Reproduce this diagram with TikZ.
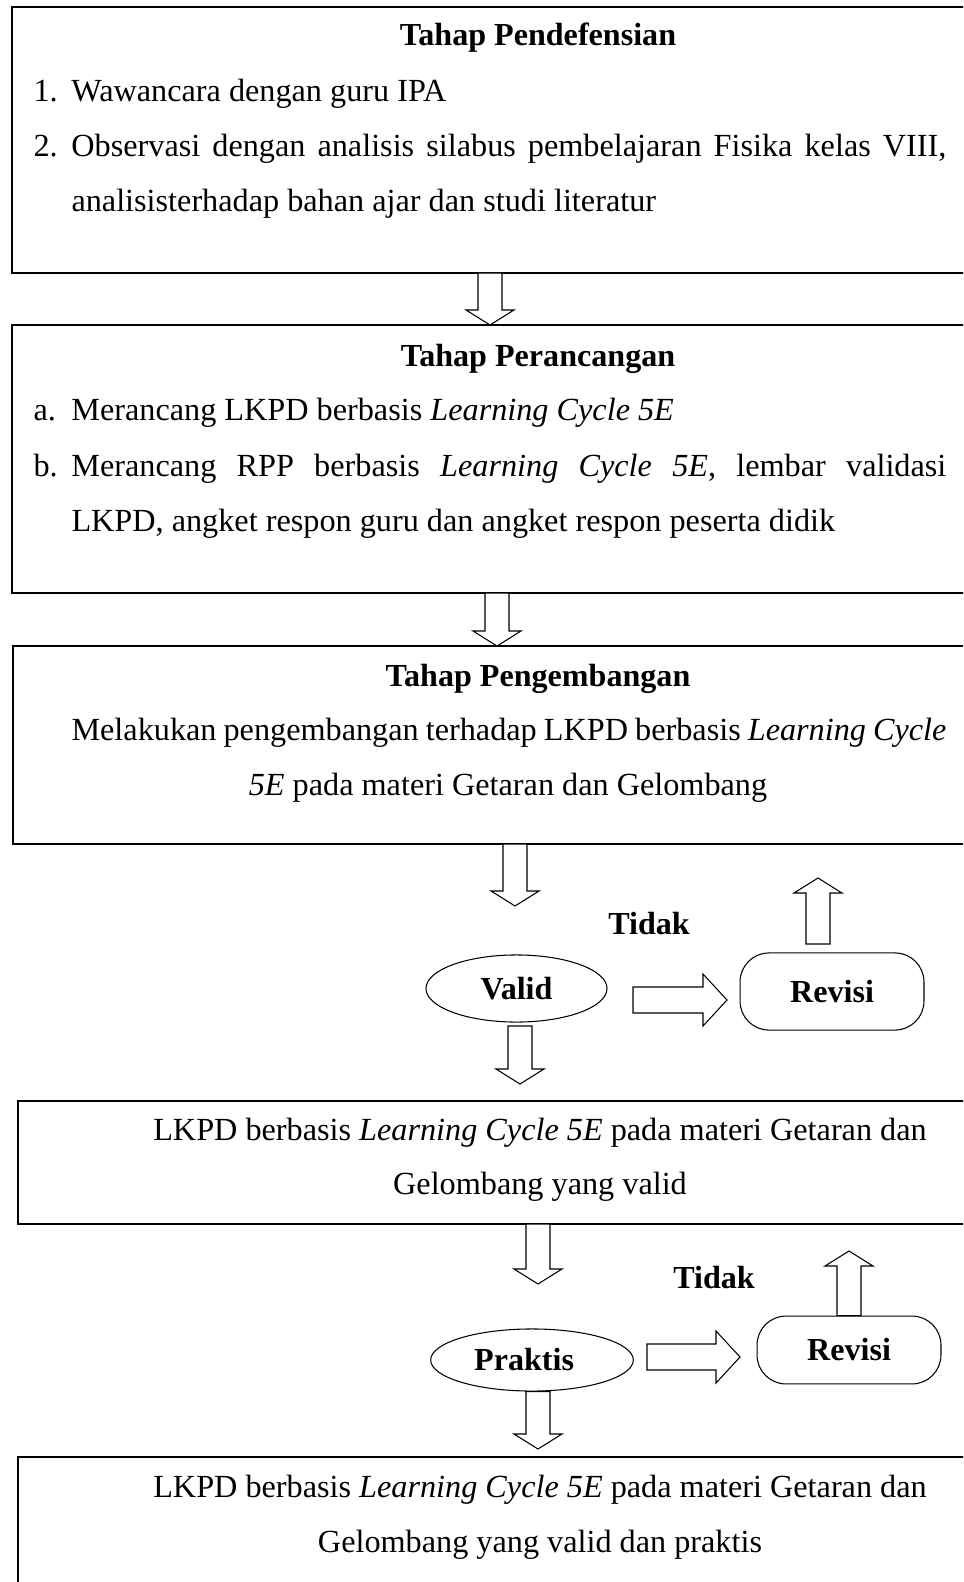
\documentclass[tikz,border=0pt]{standalone}
\usepackage{fontspec}
\setmainfont{Liberation Serif}
\usetikzlibrary{calc,fit,shapes.geometric}

\tikzset{
  stagebox/.style={draw, line width=0.5pt, inner sep=0pt, outer sep=0pt},
  bodyline/.style={font=\fontsize{12.25}{14}\selectfont, inner sep=0pt, anchor=base west},
  cline/.style={bodyline, anchor=base},
  stagetitle/.style={cline, font=\fontsize{12.2}{14}\selectfont\bfseries},
  decision/.style={ellipse, draw, line width=0.4pt, inner sep=0pt, font=\fontsize{12.2}{14}\selectfont\bfseries},
  revise/.style={draw, rounded corners=11pt, line width=0.4pt, inner sep=0pt, font=\fontsize{12.2}{14}\selectfont\bfseries},
  blockline/.style={draw, line width=0.4pt, fill=white, line join=miter},
}

% hollow block arrows, vertical and horizontal
\newcommand{\vblock}[2]{%
  \path[blockline] let \p1=#1, \p2=#2, \n1={sign(\y1-\y2)*5.7pt} in
    ({\x1-4.56pt},\y1) -- ({\x1-4.56pt},{\y2+\n1}) -- ({\x1-9.12pt},{\y2+\n1})
    -- (\x1,\y2) -- ({\x1+9.12pt},{\y2+\n1}) -- ({\x1+4.56pt},{\y2+\n1})
    -- ({\x1+4.56pt},\y1) -- cycle;}
\newcommand{\hblock}[2]{%
  \path[blockline] let \p1=#1, \p2=#2, \n1={sign(\x1-\x2)*9.12pt} in
    (\x1,{\y1-4.94pt}) -- ({\x2+\n1},{\y1-4.94pt}) -- ({\x2+\n1},{\y1-9.88pt})
    -- (\x2,\y1) -- ({\x2+\n1},{\y1+9.88pt}) -- ({\x2+\n1},{\y1+4.94pt})
    -- (\x1,{\y1+4.94pt}) -- cycle;}

\begin{document}
\begin{tikzpicture}[x=0.38pt, y=-0.38pt]
  \useasboundingbox (0,0) rectangle (963,1582);
  \clip (0,0) rectangle (963,1582);

  % stage boxes (open to the right)
  \node[stagebox, fit={(12,7) (1000,273)}] (define) {};
  \node[stagebox, fit={(12,325) (1000,593)}] (design) {};
  \node[stagebox, fit={(13,646) (1000,844)}] (develop) {};
  \node[stagebox, fit={(18,1101) (1000,1224)}] (validbox) {};
  \node[stagebox, fit={(18,1457) (1000,1640)}] (finalbox) {};

  % Tahap Pendefensian
  \node[stagetitle] (t1) at (538,46) {Tahap Pendefensian};
  \node[bodyline] (t1a) at (33,102) {\makebox[14.4pt][l]{1.}Wawancara dengan guru IPA};
  \node[bodyline] (t1b) at (33,157) {\makebox[14.4pt][l]{2.}\makebox[332.5pt][s]{Observasi dengan analisis silabus pembelajaran Fisika kelas VIII,}};
  \node[bodyline] (t1c) at (71,212) {analisisterhadap bahan ajar dan studi literatur};

  % Tahap Perancangan
  \node[stagetitle] (t2) at (538,366) {Tahap Perancangan};
  \node[bodyline] (t2a) at (33,420) {\makebox[14.4pt][l]{a.}Merancang LKPD berbasis \textit{Learning Cycle 5E}};
  \node[bodyline] (t2b) at (33,476) {\makebox[14.4pt][l]{b.}\makebox[332.5pt][s]{Merancang RPP berbasis \textit{Learning Cycle 5E}, lembar validasi}};
  \node[bodyline] (t2c) at (71,531) {LKPD, angket respon guru dan angket respon peserta didik};

  % Tahap Pengembangan
  \node[stagetitle] (t3) at (538,686) {Tahap Pengembangan};
  \node[bodyline] (t3a) at (71,740) {\makebox[332.5pt][s]{Melakukan pengembangan terhadap LKPD berbasis \textit{Learning Cycle}}};
  \node[cline] (t3b) at (508,795) {\textit{5E} pada materi Getaran dan Gelombang};

  % hasil
  \node[cline] (t4a) at (540,1140) {LKPD berbasis \textit{Learning Cycle 5E} pada materi Getaran dan};
  \node[cline] (t4b) at (540,1194) {Gelombang yang valid};
  \node[cline] (t5a) at (540,1497) {LKPD berbasis \textit{Learning Cycle 5E} pada materi Getaran dan};
  \node[cline] (t5b) at (540,1552) {Gelombang yang valid dan praktis};

  % decisions
  \node[decision, minimum width=68.8pt, minimum height=25.5pt] (valid) at (516.5,988.5) {Valid};
  \node[revise, minimum width=69.9pt, minimum height=29.3pt] (revisi1) at (832,991.5) {Revisi};
  \node[stagetitle] (no1) at (649,934) {Tidak};
  \node[decision, minimum width=77pt, minimum height=23.6pt] (praktis) at (532,1360) {Praktis\hspace*{6pt}};
  \node[revise, minimum width=69.9pt, minimum height=25.8pt] (revisi2) at (849,1350) {Revisi};
  \node[stagetitle] (no2) at (714,1288) {Tidak};

  % columns and free ends of the block arrows
  \coordinate (colA) at (490,0);
  \coordinate (colB) at (497,0);
  \coordinate (colC) at (515,0);
  \coordinate (colD) at (538,0);
  \coordinate (validin) at (515,906);
  \coordinate (validdown) at (520,1026);
  \coordinate (validbelow) at (520,1084);
  \coordinate (noA) at (633,1000);
  \coordinate (noB) at (727,1000);
  \coordinate (upA) at (818,944);
  \coordinate (upB) at (818,878);
  \coordinate (praktisin) at (538,1284);
  \coordinate (noC) at (647,1357);
  \coordinate (noD) at (740,1357);
  \coordinate (upC) at (849,1251);
  \coordinate (finalin) at (538,1449);

  \vblock{(define.south -| colA)}{(design.north -| colA)}
  \vblock{(design.south -| colB)}{(develop.north -| colB)}
  \vblock{(develop.south -| colC)}{(validin)}
  \hblock{(noA)}{(noB)}
  \vblock{(upA)}{(upB)}
  \vblock{(validdown)}{(validbelow)}
  \vblock{(validbox.south -| colD)}{(praktisin)}
  \hblock{(noC)}{(noD)}
  \vblock{(revisi2.north)}{(upC)}
  \vblock{(praktis.south -| colD)}{(finalin)}
\end{tikzpicture}
\end{document}
